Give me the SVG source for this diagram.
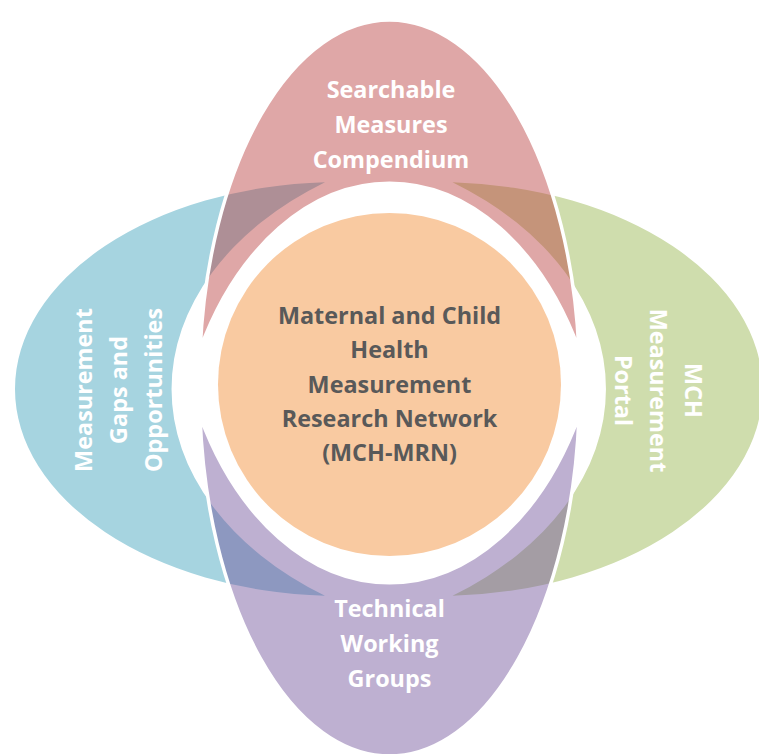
<svg xmlns="http://www.w3.org/2000/svg" width="759" height="754" viewBox="0 0 759 754">
<style>
.lbl{font-family:"Open Sans","Liberation Sans",sans-serif;font-weight:bold;font-size:23.4px;text-anchor:middle}
.w{fill:#FFFFFF}
.dk{fill:#595959}
.ov{fill-opacity:0.45;stroke:#FFFFFF;stroke-width:3.5;stroke-linejoin:round}
</style>
<rect width="759" height="754" fill="#FFFFFF"/>
<g id="node-left">
<path d="M325,182.2 A325,207 0 0 0 15,389 A325,207 0 0 0 325,595.8 A362,253 0 0 1 325,182.2 Z" fill="#A6D4E0"/>
<text class="lbl w" transform="translate(92,390) rotate(-90)">Measurement</text>
<text class="lbl w" transform="translate(127,390) rotate(-90)">Gaps and</text>
<text class="lbl w" transform="translate(162,390) rotate(-90)">Opportunities</text>
</g>
<g id="node-right">
<path d="M452.5,182.2 A325,207 0 0 1 762.5,389 A325,207 0 0 1 452.5,595.8 A362,253 0 0 0 452.5,182.2 Z" fill="#CFDDAD"/>
<text class="lbl w" transform="translate(685,390.5) rotate(90)">MCH</text>
<text class="lbl w" transform="translate(650,390.5) rotate(90)">Measurement</text>
<text class="lbl w" transform="translate(615,390.5) rotate(90)">Portal</text>
</g>
<g id="node-top">
<path class="ov" d="M200.2,349 A190,360 0 0 1 389.5,20 A190,360 0 0 1 578.8,349 A215,315 0 0 0 200.2,349 Z" fill="#B83B3B"/>
<text class="lbl w" x="391" y="98">Searchable</text>
<text class="lbl w" x="391" y="133">Measures</text>
<text class="lbl w" x="391" y="168">Compendium</text>
</g>
<g id="node-bottom">
<path class="ov" d="M200,416 A190,366 0 0 0 389.5,756 A190,366 0 0 0 579,416 A215,316 0 0 1 200,416 Z" fill="#6F4F99"/>
<text class="lbl w" x="389.5" y="617">Technical</text>
<text class="lbl w" x="389.5" y="652">Working</text>
<text class="lbl w" x="389.5" y="687">Groups</text>
</g>
<g id="node-center">
<circle cx="389.5" cy="384.5" r="171.5" fill="#F9CAA1"/>
<text class="lbl dk" x="389.5" y="323.5">Maternal and Child</text>
<text class="lbl dk" x="389.5" y="358">Health</text>
<text class="lbl dk" x="389.5" y="392.5">Measurement</text>
<text class="lbl dk" x="389.5" y="427">Research Network</text>
<text class="lbl dk" x="389.5" y="461">(MCH-MRN)</text>
</g>
</svg>
